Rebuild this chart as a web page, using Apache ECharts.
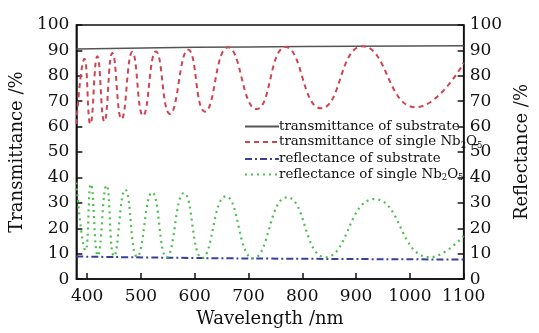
<!DOCTYPE html>
<html>
<head>
<meta charset="utf-8">
<script src="https://cdn.jsdelivr.net/npm/echarts@6/dist/echarts.min.js"></script>
<style>html,body{margin:0;padding:0;background:#fff;}#c{width:539px;height:333px;}</style>
</head>
<body>
<div id="c"></div>
<script>
// Tick labels
const xTicks = [400, 500, 600, 700, 800, 900, 1000, 1100];
const yTicks = [0, 10, 20, 30, 40, 50, 60, 70, 80, 90, 100];

// Transmittance of substrate
const tSubX = [380, 600, 800, 1100];
const tSubY = [90.6, 91.2, 91.5, 91.8];

// Transmittance of single Nb2O5 (read at start, extrema and end)
const tNbX = [380, 395, 406, 419, 432, 447, 464, 484, 504, 528, 554, 588, 619, 662, 715, 769, 835, 912, 1011, 1100];
const tNbY = [61, 86.7, 61, 87.7, 62, 89, 63, 89.4, 64.3, 89.6, 65, 90.3, 65.9, 91.2, 66.9, 91.3, 67.2, 91.6, 67.6, 85];

// Reflectance of substrate
const rSubX = [380, 600, 800, 1100];
const rSubY = [8.9, 8.3, 8.0, 7.7];

// Reflectance of single Nb2O5
const rNbX = [380, 397, 407, 420, 436, 450, 471, 493, 521, 548, 580, 614, 658, 709, 772, 843, 934, 1037, 1100];
const rNbY = [38, 11.3, 37.4, 9.2, 36.9, 9, 35.2, 8.8, 34.1, 8.6, 33.9, 8.3, 32.6, 8.2, 32.2, 8.6, 31.5, 8.6, 17];

const names = [
  'transmittance of substrate',
  'transmittance of single Nb2O5',
  'reflectance of substrate',
  'reflectance of single Nb2O5'
];

function pairs(xs, ys) { return xs.map((x, i) => [x, ys[i]]); }

const FONT = 'DejaVu Serif';
const chart = echarts.init(document.getElementById('c'), null, {renderer: 'canvas'});
const plain = function (v) { return String(v); };

chart.setOption({
  animation: false,
  backgroundColor: '#fff',
  grid: {left: 67, right: 51, top: 25, bottom: 51, show: true, borderColor: '#111', borderWidth: 1.5, containLabel: false},
  legend: {
    orient: 'vertical', left: 239, top: 115, itemWidth: 34, itemHeight: 12, itemGap: 2.5,
    data: names,
    itemStyle: {opacity: 0},
    formatter: function (n) { return n.replace('Nb2O5', 'Nb{s|2}O{s|5}'); },
    textStyle: {fontFamily: FONT, fontSize: 13.4, color: '#111', padding: [0, 0, 0, -5],
      rich: {s: {fontFamily: FONT, fontSize: 8.5, color: '#111', padding: [7, 0, 0, 0]}}}
  },
  xAxis: {
    type: 'value', min: 380, max: 1100,
    name: 'Wavelength /nm', nameLocation: 'middle', nameGap: 27,
    nameTextStyle: {fontFamily: FONT, fontSize: 18, color: '#111'},
    axisLine: {lineStyle: {color: '#111', width: 1.5}},
    axisTick: {inside: true, length: 6, lineStyle: {color: '#111', width: 1.5}, customValues: xTicks},
    axisLabel: {fontFamily: FONT, fontSize: 17, color: '#111', margin: 9, customValues: xTicks, formatter: plain},
    splitLine: {show: false}
  },
  yAxis: [{
    type: 'value', min: 0, max: 100, interval: 10, position: 'left',
    name: 'Transmittance /%', nameLocation: 'middle', nameGap: 38,
    nameTextStyle: {fontFamily: FONT, fontSize: 18, color: '#111'},
    axisLine: {show: true, lineStyle: {color: '#111', width: 1.5}},
    axisTick: {show: true, inside: true, length: 6, lineStyle: {color: '#111', width: 1.5}, customValues: yTicks},
    axisLabel: {fontFamily: FONT, fontSize: 17, color: '#111', margin: 7, customValues: yTicks, formatter: plain},
    splitLine: {show: false}
  }, {
    type: 'value', min: 0, max: 100, interval: 10, position: 'right',
    name: 'Reflectance /%', nameLocation: 'middle', nameGap: 37, nameRotate: 90,
    nameTextStyle: {fontFamily: FONT, fontSize: 18, color: '#111'},
    axisLine: {show: true, lineStyle: {color: '#111', width: 1.5}},
    axisTick: {show: true, inside: true, length: 6, lineStyle: {color: '#111', width: 1.5}, customValues: yTicks},
    axisLabel: {fontFamily: FONT, fontSize: 17, color: '#111', margin: 6, customValues: yTicks, formatter: plain},
    splitLine: {show: false}
  }],
  series: [{
    name: names[0], type: 'line', yAxisIndex: 0, symbol: 'none', smooth: true,
    data: pairs(tSubX, tSubY),
    lineStyle: {color: '#555', width: 1.5, type: 'solid'}, itemStyle: {color: '#555'}
  }, {
    name: names[1], type: 'line', yAxisIndex: 0, symbol: 'none', smooth: 0.5,
    data: pairs(tNbX, tNbY),
    lineStyle: {color: '#cf4452', width: 2, type: [5, 4]}, itemStyle: {color: '#cf4452'}
  }, {
    name: names[2], type: 'line', yAxisIndex: 1, symbol: 'none', smooth: true,
    data: pairs(rSubX, rSubY),
    lineStyle: {color: '#3540a0', width: 2, type: [7, 3, 2, 3]}, itemStyle: {color: '#3540a0'}
  }, {
    name: names[3], type: 'line', yAxisIndex: 1, symbol: 'none', smooth: 0.5,
    data: pairs(rNbX, rNbY),
    lineStyle: {color: '#4fc04f', width: 2.2, type: [2, 4]}, itemStyle: {color: '#4fc04f'}
  }]
});
</script>
</body>
</html>
